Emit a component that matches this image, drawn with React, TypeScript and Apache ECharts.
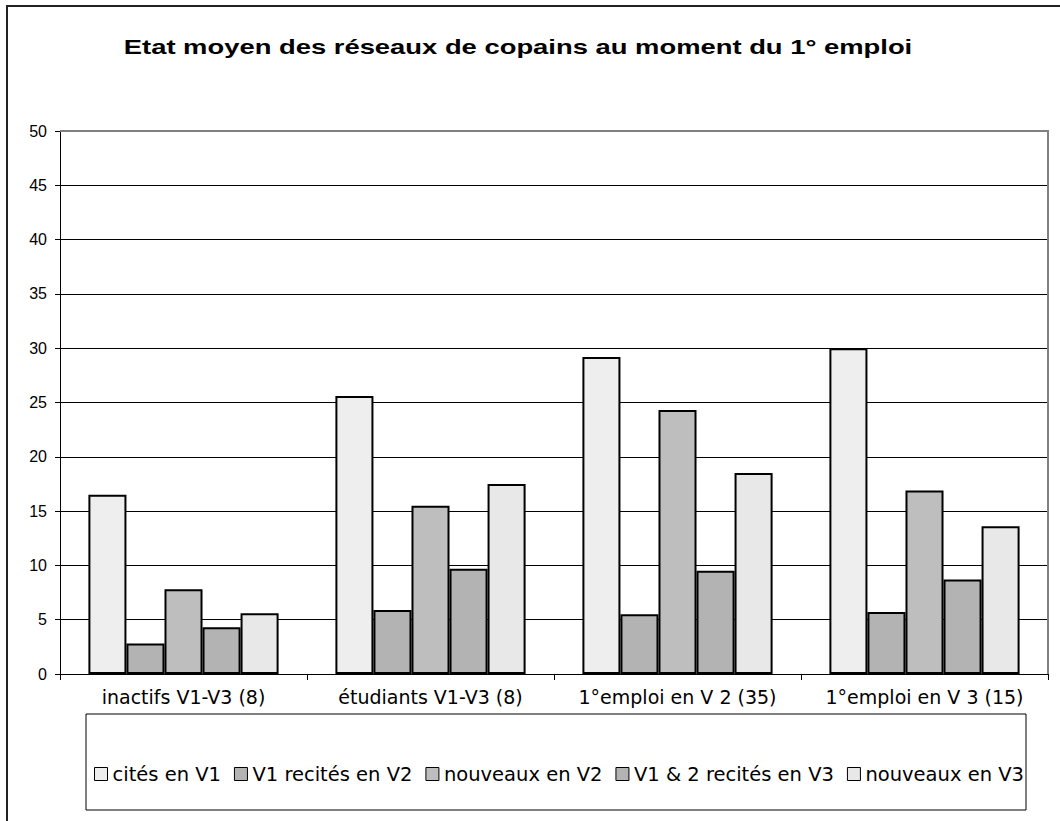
import React, { useEffect, useRef } from "react";
import * as echarts from "echarts";

const categories = [
  "inactifs V1-V3 (8)",
  "étudiants V1-V3 (8)",
  "1°emploi en V 2 (35)",
  "1°emploi en V 3 (15)",
];
const seriesNames = [
  "cités en V1",
  "V1 recités en V2",
  "nouveaux en V2",
  "V1 & 2 recités en V3",
  "nouveaux en V3",
];
const citesV1 = [16.5, 25.6, 29.2, 30.0];
const recitesV2 = [2.8, 5.9, 5.5, 5.7];
const nouveauxV2 = [7.8, 15.5, 24.3, 16.9];
const recitesV3 = [4.3, 9.7, 9.5, 8.7];
const nouveauxV3 = [5.6, 17.5, 18.5, 13.6];
const yTicks = { min: 0, max: 50, interval: 5 };
const title = "Etat moyen des réseaux de copains au moment du 1° emploi";

const colors = ["#eeeeee", "#b3b3b3", "#bebebe", "#b3b3b3", "#e8e8e8"];
const FONT = "'Liberation Sans', Arial, sans-serif";
const WIDE = "'DejaVu Sans', 'Liberation Sans', sans-serif";

export default function App() {
  const ref = useRef<HTMLDivElement>(null);
  useEffect(() => {
    document.body.style.margin = "0";
    const chart = echarts.init(ref.current!, null, { renderer: "svg" });
    const data = [citesV1, recitesV2, nouveauxV2, recitesV3, nouveauxV3];
    chart.setOption({
      animation: false,
      backgroundColor: "#ffffff",
      textStyle: { fontFamily: FONT },
      graphic: [
        {
          type: "rect",
          shape: { x: 7, y: 6, width: 1100, height: 900 },
          style: { fill: "none", stroke: "#222", lineWidth: 2 },
          z: -1,
        },
        {
          type: "text",
          x: 518,
          y: 47,
          scaleX: 1.37,
          style: {
            text: title,
            font: "bold 20px 'Liberation Sans', Arial, sans-serif",
            fill: "#000",
            align: "center",
            verticalAlign: "middle",
          },
        },
        {
          type: "polyline",
          shape: { points: [[60, 131], [1048, 131], [1048, 674]] },
          style: { stroke: "#808080", lineWidth: 2, fill: "none" },
          z: 100,
        },
        {
          type: "rect",
          shape: { x: 86, y: 714, width: 940, height: 96 },
          style: { fill: "none", stroke: "#000", lineWidth: 1 },
        },
      ],
      grid: { left: 60, top: 131, right: 12, bottom: 147, containLabel: false },
      legend: {
        data: seriesNames,
        top: 759,
        left: 89,
        icon: "rect",
        itemWidth: 13,
        itemHeight: 13,
        itemGap: 13,
        textStyle: { fontSize: 19.5, color: "#000", fontFamily: WIDE },
        itemStyle: { borderColor: "#000", borderWidth: 1 },
      },
      xAxis: {
        type: "category",
        data: categories,
        axisLine: { lineStyle: { color: "#000", width: 1 } },
        axisTick: { show: true, length: 6, lineStyle: { color: "#000" } },
        axisLabel: {
          interval: 0,
          hideOverlap: false,
          fontSize: 19,
          color: "#000",
          margin: 13,
          fontFamily: WIDE,
        },
      },
      yAxis: {
        type: "value",
        min: yTicks.min,
        max: yTicks.max,
        interval: yTicks.interval,
        axisLine: { show: true, lineStyle: { color: "#000", width: 1 } },
        axisTick: { show: true, length: 5, lineStyle: { color: "#000" } },
        axisLabel: { fontSize: 16, color: "#000", margin: 13, fontFamily: FONT },
        splitLine: { show: true, lineStyle: { color: "#000", width: 1 } },
      },
      series: seriesNames.map((name, i) => ({
        name,
        type: "bar",
        data: data[i],
        barGap: "0%",
        barCategoryGap: "23%",
        itemStyle: { color: colors[i], borderColor: "#000", borderWidth: 2 },
      })),
    });
    return () => chart.dispose();
  }, []);
  return <div ref={ref} style={{ width: 1060, height: 821 }} />;
}
